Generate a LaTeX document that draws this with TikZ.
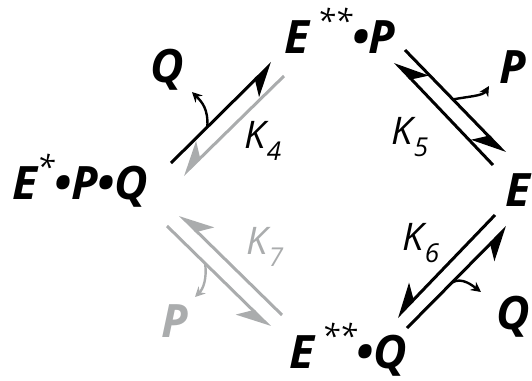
\documentclass[tikz,border=0pt]{standalone}
\usepackage{fontspec}
\setmainfont{Open Sans}
\usetikzlibrary{arrows.meta, positioning}
\definecolor{fadegray}{RGB}{170, 172, 173}
\newcommand{\kon}[1]{K\kern0.5pt\raisebox{-0.55ex}{\fontsize{13}{14}\selectfont #1}}
\newcommand{\stars}[1]{\raisebox{0.85ex}{\fontsize{16}{16}\selectfont\mdseries #1}}

\begin{document}
\begin{tikzpicture}[
  x=0.5pt, y=-0.5pt,
  species/.style = {inner sep=0pt, font=\fontsize{23}{26}\selectfont\bfseries\itshape},
  side/.style    = {inner sep=0pt, font=\fontsize{23}{26}\selectfont\bfseries\itshape},
  rate/.style    = {inner sep=0pt, font=\fontsize{19}{22}\selectfont\itshape},
  harp/.style    = {line width=1.5pt, -{Stealth[harpoon, swap, length=15pt, width=15pt, inset=4.5pt]}},
  branch/.style  = {line width=1.2pt, -{Stealth[length=5pt, width=5pt]}}
]
\useasboundingbox (0,0) rectangle (532,381);

% species
\node[species] (EPQ) at (80,181)  {E\stars{*}\textbullet P\textbullet Q};
\node[species] (EEP) at (340,31)  {E\,\stars{**}\textbullet P};
\node[species] (E)   at (518,190) {E};
\node[species] (EEQ) at (348,350) {E\,\stars{**}\textbullet Q};

% released products
\node[side] (Qa) at (167,70)  {Q};
\node[side] (Pa) at (513,67)  {P};
\node[side] (Qb) at (513,317) {Q};
\node[side, fadegray] (Pb) at (175,321) {P};

% rate constants
\node[rate] (k4) at (263,141) {\kon{4}};
\node[rate] (k5) at (410,137) {\kon{5}};
\node[rate] (k6) at (421,243) {\kon{6}};
\node[rate, fadegray] (k7) at (265,247) {\kon{7}};

% harpoon ends
\coordinate (a1) at (171,163); \coordinate (a2) at (272,63);
\coordinate (a3) at (284,76);  \coordinate (a4) at (183,175);
\coordinate (b1) at (405,50);  \coordinate (b2) at (505,153);
\coordinate (b3) at (493,165); \coordinate (b4) at (395,62);
\coordinate (c1) at (495,215); \coordinate (c2) at (397,317);
\coordinate (c3) at (407,328); \coordinate (c4) at (507,227);
\coordinate (d1) at (167,226); \coordinate (d2) at (270,327);
\coordinate (d3) at (282,315); \coordinate (d4) at (180,215);

\draw[harp] (a1) -- (a2) coordinate[pos=0.36] (ta);
\draw[harp, fadegray] (a3) -- (a4);
\draw[harp] (b1) -- (b2) coordinate[pos=0.48] (tb);
\draw[harp] (b3) -- (b4);
\draw[harp] (c1) -- (c2);
\draw[harp] (c3) -- (c4) coordinate[pos=0.45] (tc);
\draw[harp, fadegray] (d1) -- (d2) coordinate[pos=0.37] (td);
\draw[harp, fadegray] (d3) -- (d4);

% branches
\coordinate (ea) at (192,92);
\coordinate (eb) at (489,86);
\coordinate (ec) at (481,292);
\coordinate (ed) at (195,297);
\draw[branch] (ta) .. controls +(1,-18) and +(10,10) .. (ea);
\draw[branch] (tb) .. controls +(15,-3) and +(-6,10) .. (eb);
\draw[branch] (tc) .. controls +(10,-6) and +(-8,-6) .. (ec);
\draw[branch, fadegray] (td) .. controls +(2,16) and +(8,-8) .. (ed);
\end{tikzpicture}
\end{document}
